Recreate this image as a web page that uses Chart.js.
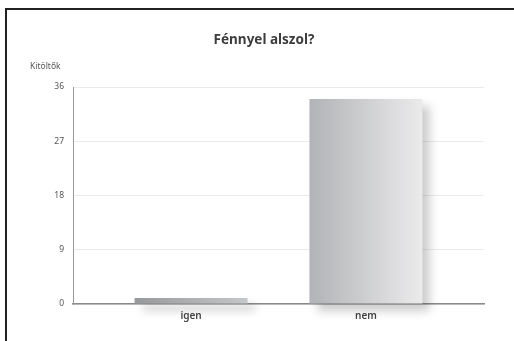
<!DOCTYPE html>
<html>
<head>
<meta charset="utf-8">
<script src="https://cdn.jsdelivr.net/npm/chart.js@4"></script>
<style>
  html, body { margin:0; padding:0; background:#fff; }
  .wrap { position:relative; width:514px; height:341px; }
  .frame { position:absolute; left:5px; top:8px; right:0; bottom:0; border-top:2px solid #222; border-left:2px solid #222; }
  canvas { position:absolute; left:0; top:0; }
</style>
</head>
<body>
<div class="wrap">
  <div class="frame"></div>
  <canvas id="bar" width="514" height="341"></canvas>
</div>
<script>
const categories = ["igen", "nem"]
const answers = [1, 34]
const yTicks = [0, 9, 18, 27, 36]
const chartTitle = "Fénnyel alszol?"
const yTitle = "Kitöltők"

const fontFamily = "'Noto Sans', 'Open Sans', sans-serif"
const barPct = 0.646

// horizontal grey gradient per bar
function barFill(ctx){
    const chart = ctx.chart
    const x = chart.scales.x
    if(!x || !ctx.raw) return "#c8c9cb"
    const c = x.getPixelForValue(ctx.raw.x)
    const half = (x.getPixelForValue(1) - x.getPixelForValue(0)) * barPct / 2
    if(!isFinite(c) || !isFinite(half) || half <= 0) return "#c8c9cb"
    const g = chart.ctx.createLinearGradient(c - half, 0, c + half, 0)
    if(ctx.dataIndex === 0){
        g.addColorStop(0, "#98999c")
        g.addColorStop(1, "#c6c7c9")
    }else{
        g.addColorStop(0, "#b2b3b6")
        g.addColorStop(1, "#ebebec")
    }
    return g
}

const shadowPlugin = {
    id:"shadow",
    beforeDatasetDraw(chart){
        const c = chart.ctx
        c.save()
        c.shadowColor = "rgba(0,0,0,0.2)"
        c.shadowBlur = 9
        c.shadowOffsetX = 8
        c.shadowOffsetY = 7
    },
    afterDatasetDraw(chart){
        chart.ctx.restore()
    }
}

const textPlugin = {
    id:"texts",
    afterDraw(chart){
        const c = chart.ctx
        c.save()
        c.fillStyle = "#3d3d3d"
        c.font = "bold 13.5px " + fontFamily
        c.textAlign = "center"
        c.textBaseline = "middle"
        c.fillText(chartTitle, 264, 40)
        c.fillStyle = "#555"
        c.font = "8.5px " + fontFamily
        c.textAlign = "left"
        c.fillText(yTitle, 30, 67)
        c.restore()
    }
}

new Chart("bar",{
    type:"bar",
    data:{
        datasets:[{
            data:answers.map((v,i) => ({x:i, y:v})),
            backgroundColor:barFill,
            borderWidth:0,
            categoryPercentage:1,
            barPercentage:barPct,
            clip:false
        }]
    },
    plugins:[shadowPlugin, textPlugin],
    options:{
        responsive:false,
        animation:false,
        layout:{ padding:{ top:87, right:30, bottom:0, left:0 } },
        plugins:{
            legend:{ display:false },
            title:{ display:false },
            tooltip:{ enabled:false }
        },
        scales:{
            x:{
                type:"linear",
                offset:false,
                min:-0.675,
                max:1.675,
                afterFit:s => { s.height = 37 },
                afterBuildTicks:s => { s.ticks = categories.map((_,i) => ({value:i})) },
                ticks:{
                    callback:v => categories[v],
                    color:"#444",
                    font:{ family:fontFamily, size:10, weight:"600" },
                    padding:-2
                },
                grid:{ display:false },
                border:{ color:"#8a8a8a", width:1.5 }
            },
            y:{
                min:0,
                max:36,
                afterFit:s => { s.width = 73 },
                afterBuildTicks:s => { s.ticks = yTicks.map(v => ({value:v})) },
                ticks:{
                    color:"#555",
                    font:{ family:fontFamily, size:8.5 },
                    padding:9
                },
                grid:{ color:"#ebebeb", lineWidth:1, drawTicks:false },
                border:{ color:"#999", width:1 }
            }
        }
    }
})
</script>
</body>
</html>
